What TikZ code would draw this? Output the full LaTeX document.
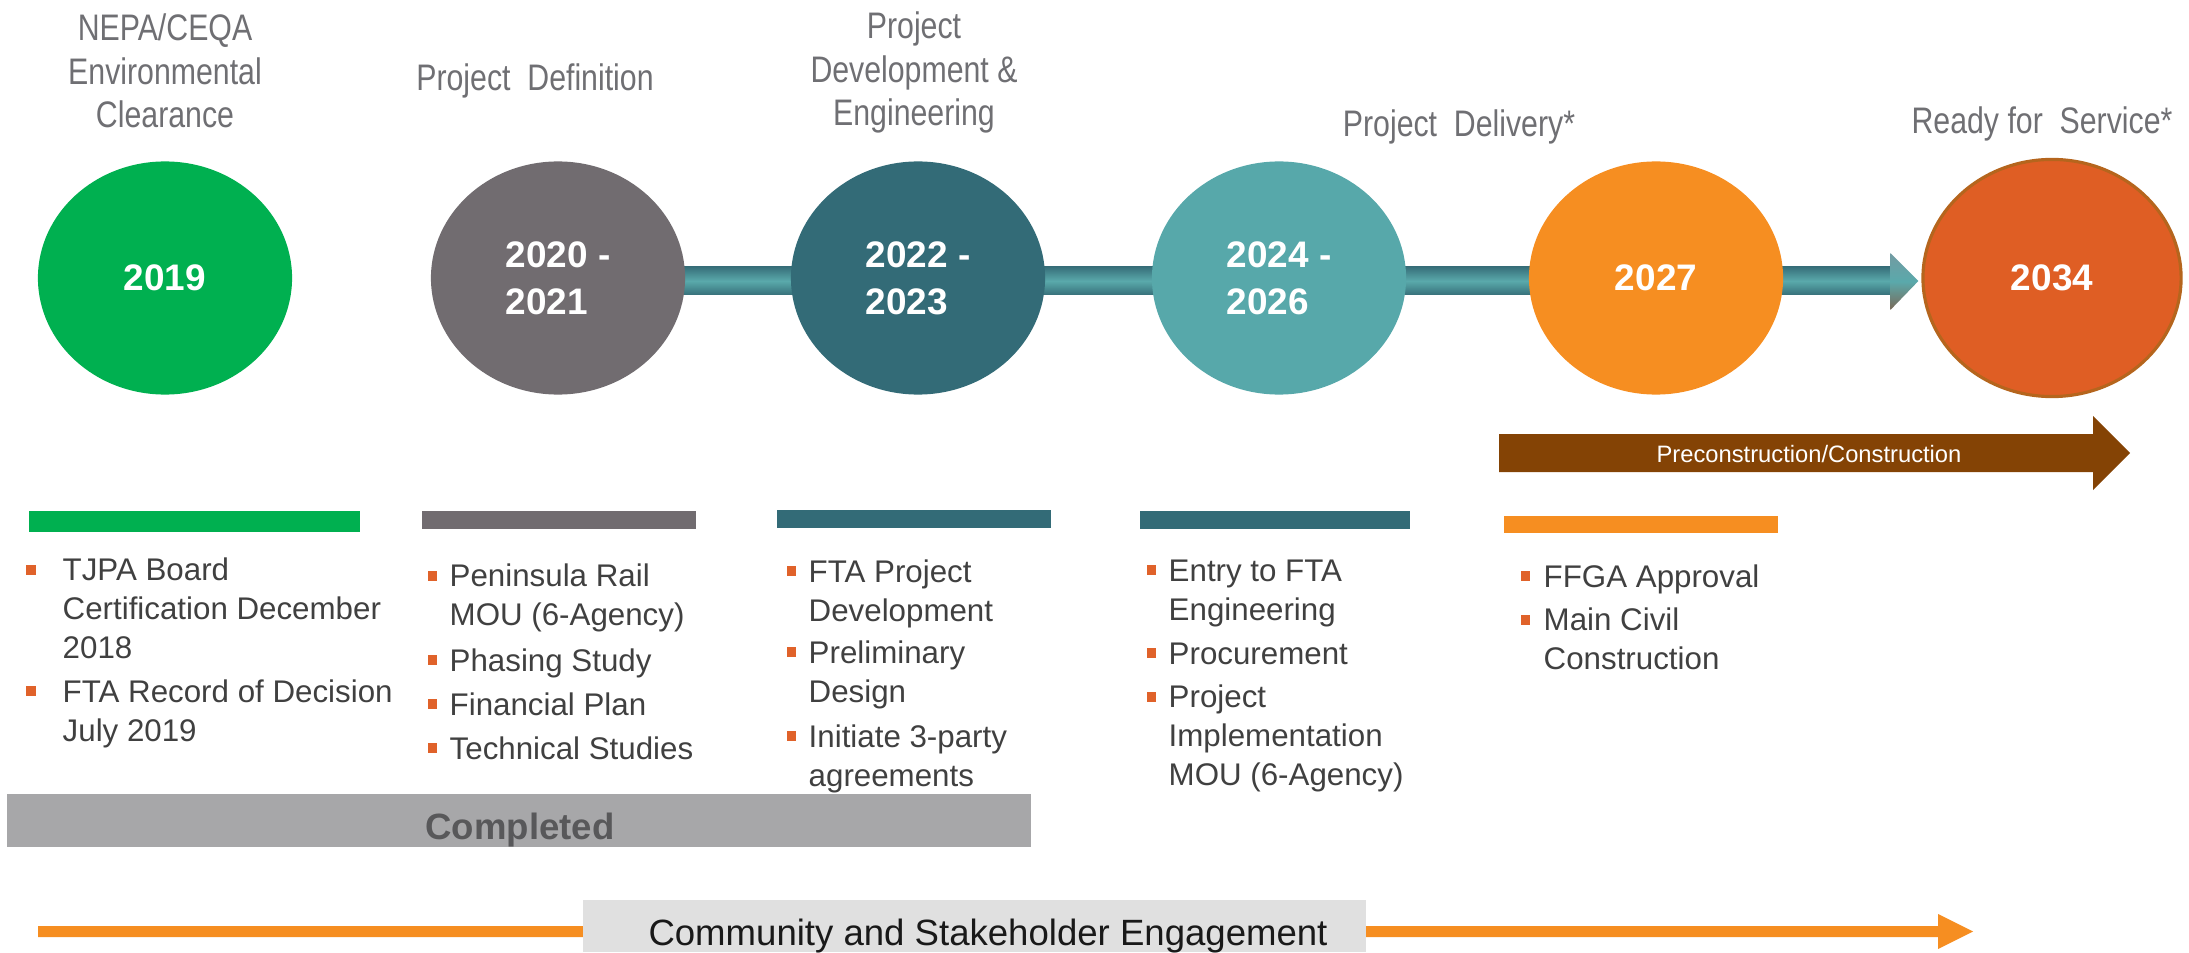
\documentclass[tikz,border=0pt]{standalone}
\usepackage{fontspec}
\setmainfont{Liberation Sans}
\newfontfamily\narrowfont[FakeStretch=0.82]{Liberation Sans}
\usetikzlibrary{shapes.geometric, calc, backgrounds}

\definecolor{green19}{HTML}{00B050}
\definecolor{gray20}{HTML}{716C70}
\definecolor{teal22}{HTML}{336B77}
\definecolor{teal24}{HTML}{57A8AA}
\definecolor{orange27}{HTML}{F68E21}
\definecolor{red34}{HTML}{DF5E24}
\definecolor{red34edge}{HTML}{B5651D}
\definecolor{bardark}{HTML}{37707A}
\definecolor{barlight}{HTML}{5AA9AB}
\definecolor{brownarrow}{HTML}{844305}
\definecolor{titlegray}{HTML}{6F6F73}
\definecolor{bodytext}{HTML}{404040}
\definecolor{bulletorange}{HTML}{E0622A}
\definecolor{donegray}{HTML}{A7A7A9}
\definecolor{donetext}{HTML}{58585A}
\definecolor{enggray}{HTML}{E0E0E0}

\tikzset{
  year/.style={ellipse, minimum width=2.54cm, minimum height=2.33cm, inner sep=0pt,
    text=white, align=left, font=\fontsize{10.5}{13.4}\selectfont\bfseries},
  phase/.style={text=titlegray, align=center, anchor=base, inner sep=0pt,
    font=\narrowfont\fontsize{10.5}{12.5}\selectfont},
  item/.style={text=bodytext, align=left, anchor=base west, inner sep=0pt,
    font=\fontsize{8.9}{11}\selectfont},
  sq/.style={fill=bulletorange, minimum width=0.09cm, minimum height=0.1cm, inner sep=0pt},
}

\begin{document}
\begin{tikzpicture}[x=0.01cm, y=-0.01cm]
\useasboundingbox (0,0) rectangle (2189,952);

% phase titles (anchored on the last line)
\node[phase] (t2019) at (165,128) {NEPA/CEQA\\Environmental\\Clearance};
\node[phase] (t2020) at (535,91) {Project~~Definition};
\node[phase] (t2022) at (914,126) {Project\\Development \&\\Engineering};
\node[phase] (t2024) at (1459,137) {Project~~Delivery*};
\node[phase] (t2034) at (2042,134) {Ready for~~Service*};

% year circles
\node[year, fill=green19] (c2019) at (165,278) {2019};
\node[year, fill=gray20] (c2020) at (558,278) {2020 -\\2021};
\node[year, fill=teal22] (c2022) at (918,278) {2022 -\\2023};
\node[year, fill=teal24] (c2024) at (1279,278) {2024 -\\2026};
\node[year, fill=orange27] (c2027) at (1656,278) {2027};
\node[year, fill=red34, draw=red34edge, line width=0.9pt,
  minimum width=2.58cm, minimum height=2.37cm] (c2034) at (2052,278) {2034};

% timeline bar
\coordinate (tip) at ($(c2034.west)+(-3,3)$);
\begin{scope}[on background layer]
\shade[top color=bardark, bottom color=bardark, middle color=barlight]
  ($(c2020.center)+(0,-11)$) -- ($(tip)+(-28,-14)$) -- ($(tip)+(-28,14)$)
  -- ($(c2020.center)+(0,17)$) -- cycle;
\shade[top color=bardark!70!white, bottom color=bardark!60!red34, middle color=barlight]
  ($(tip)+(-28,-28)$) -- (tip) -- ($(tip)+(-28,29)$) -- cycle;
\end{scope}

% construction arrow
\fill[brownarrow] (1499,434) -- (2093,434) -- (2093,416) -- (2130,453)
  -- (2093,490) -- (2093,472) -- (1499,472) -- cycle;
\node[text=white, anchor=base, inner sep=0pt, font=\fontsize{6.75}{8}\selectfont]
  (precon) at (1809,462) {Preconstruction/Construction};

% column bars
\fill[green19] (29,511) rectangle (360,532);
\fill[gray20] (422,511) rectangle (696,529);
\fill[teal22] (777,510) rectangle (1051,528);
\fill[teal22] (1140,511) rectangle (1410,529);
\fill[orange27] (1504,516) rectangle (1778,533);

% 2019
\node[sq] (s11) at (31,570) {};
\node[item] (i11) at (62,658) {TJPA Board\\Certification December\\2018};
\node[sq] (s12) at (31,691) {};
\node[item] (i12) at (62,741) {FTA Record of Decision\\July 2019};

% 2020 - 2021
\node[sq] (s21) at (432,576) {};
\node[item] (i21) at (449,625) {Peninsula Rail\\MOU (6-Agency)};
\node[sq] (s22) at (432,660) {};
\node[item] (i22) at (449,671) {Phasing Study};
\node[sq] (s23) at (432,704) {};
\node[item] (i23) at (449,715) {Financial Plan};
\node[sq] (s24) at (432,748) {};
\node[item] (i24) at (449,759) {Technical Studies};

% 2022 - 2023
\node[sq] (s31) at (791,571) {};
\node[item] (i31) at (808,621) {FTA Project\\Development};
\node[sq] (s32) at (791,652) {};
\node[item] (i32) at (808,702) {Preliminary\\Design};
\node[sq] (s33) at (791,736) {};
\node[item] (i33) at (808,786) {Initiate 3-party\\agreements};

% 2024 - 2026
\node[sq] (s41) at (1151,570) {};
\node[item] (i41) at (1168,620) {Entry to FTA\\Engineering};
\node[sq] (s42) at (1151,653) {};
\node[item] (i42) at (1168,664) {Procurement};
\node[sq] (s43) at (1151,697) {};
\node[item] (i43) at (1168,785) {Project\\Implementation\\MOU (6-Agency)};

% 2027
\node[sq] (s51) at (1525,576) {};
\node[item] (i51) at (1543,587) {FFGA Approval};
\node[sq] (s52) at (1525,620) {};
\node[item] (i52) at (1543,669) {Main Civil\\Construction};

% completed
\fill[donegray] (7,794) rectangle (1031,847);
\node[text=donetext, anchor=base, inner sep=0pt, font=\fontsize{10.4}{12}\selectfont\bfseries]
  (done) at (520,839) {Completed};

% engagement
\fill[orange27] (38,926) -- (1938,926) -- (1938,914) -- (1973,931.5)
  -- (1938,949) -- (1938,937) -- (38,937) -- cycle;
\fill[enggray] (583,900) rectangle (1366,952);
\node[text=black!90, anchor=base, inner sep=0pt, font=\fontsize{10.4}{12}\selectfont]
  (eng) at (988,945) {Community and Stakeholder Engagement};
\end{tikzpicture}
\end{document}
